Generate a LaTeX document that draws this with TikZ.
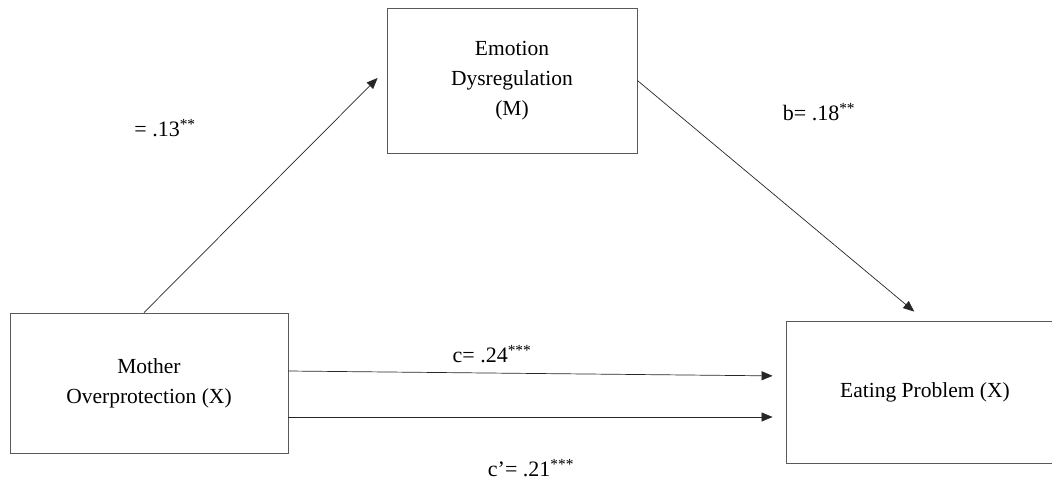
\documentclass[tikz,border=0pt]{standalone}
\usepackage{fontspec}
\setmainfont{Liberation Serif}
\usetikzlibrary{arrows.meta,positioning}

\begin{document}
\begin{tikzpicture}[
  x=1pt,y=-1pt,
  box/.style={draw=black!65,line width=0.9pt,minimum width=278pt,minimum height=140pt,
              align=center,inner sep=0pt,font=\fontsize{21.5}{30}\selectfont},
  arrow/.style={-{Triangle[length=11pt,width=9pt]},draw=black!85,line width=0.7pt},
  lbl/.style={font=\fontsize{22}{24}\selectfont}
]
\useasboundingbox (0,0) rectangle (1052,483);
\clip (0,0) rectangle (1052,483);
\node[box] (mother) at (149,383) {Mother\\Overprotection (X)};
\node[box,minimum width=250pt,minimum height=145pt] (emo) at (512,80.5) {Emotion\\Dysregulation\\(M)};
\node[box,minimum height=142pt] (eat) at (925,392) {Eating Problem (X)};
\node[lbl] (a) at (165,128) {= .13\textsuperscript{**}};
\node[lbl] (b) at (819,112) {b= .18\textsuperscript{**}};
\node[lbl] (c) at (492,354) {c= .24\textsuperscript{***}};
\node[lbl] (cp) at (531,468) {c’= .21\textsuperscript{***}};
\draw[arrow,shorten >=12.7pt] ([xshift=-5pt]mother.north) -- ([yshift=11.5pt]emo.west);
\draw[arrow,shorten >=14pt] (emo.east) -- (eat.north);
\draw[arrow,shorten >=13pt] ([yshift=12pt]mother.east) -- ([yshift=16pt]eat.west);
\draw[arrow,shorten >=13pt] ([yshift=-34pt]mother.east) -- ([yshift=-25pt]eat.west);
\end{tikzpicture}
\end{document}
